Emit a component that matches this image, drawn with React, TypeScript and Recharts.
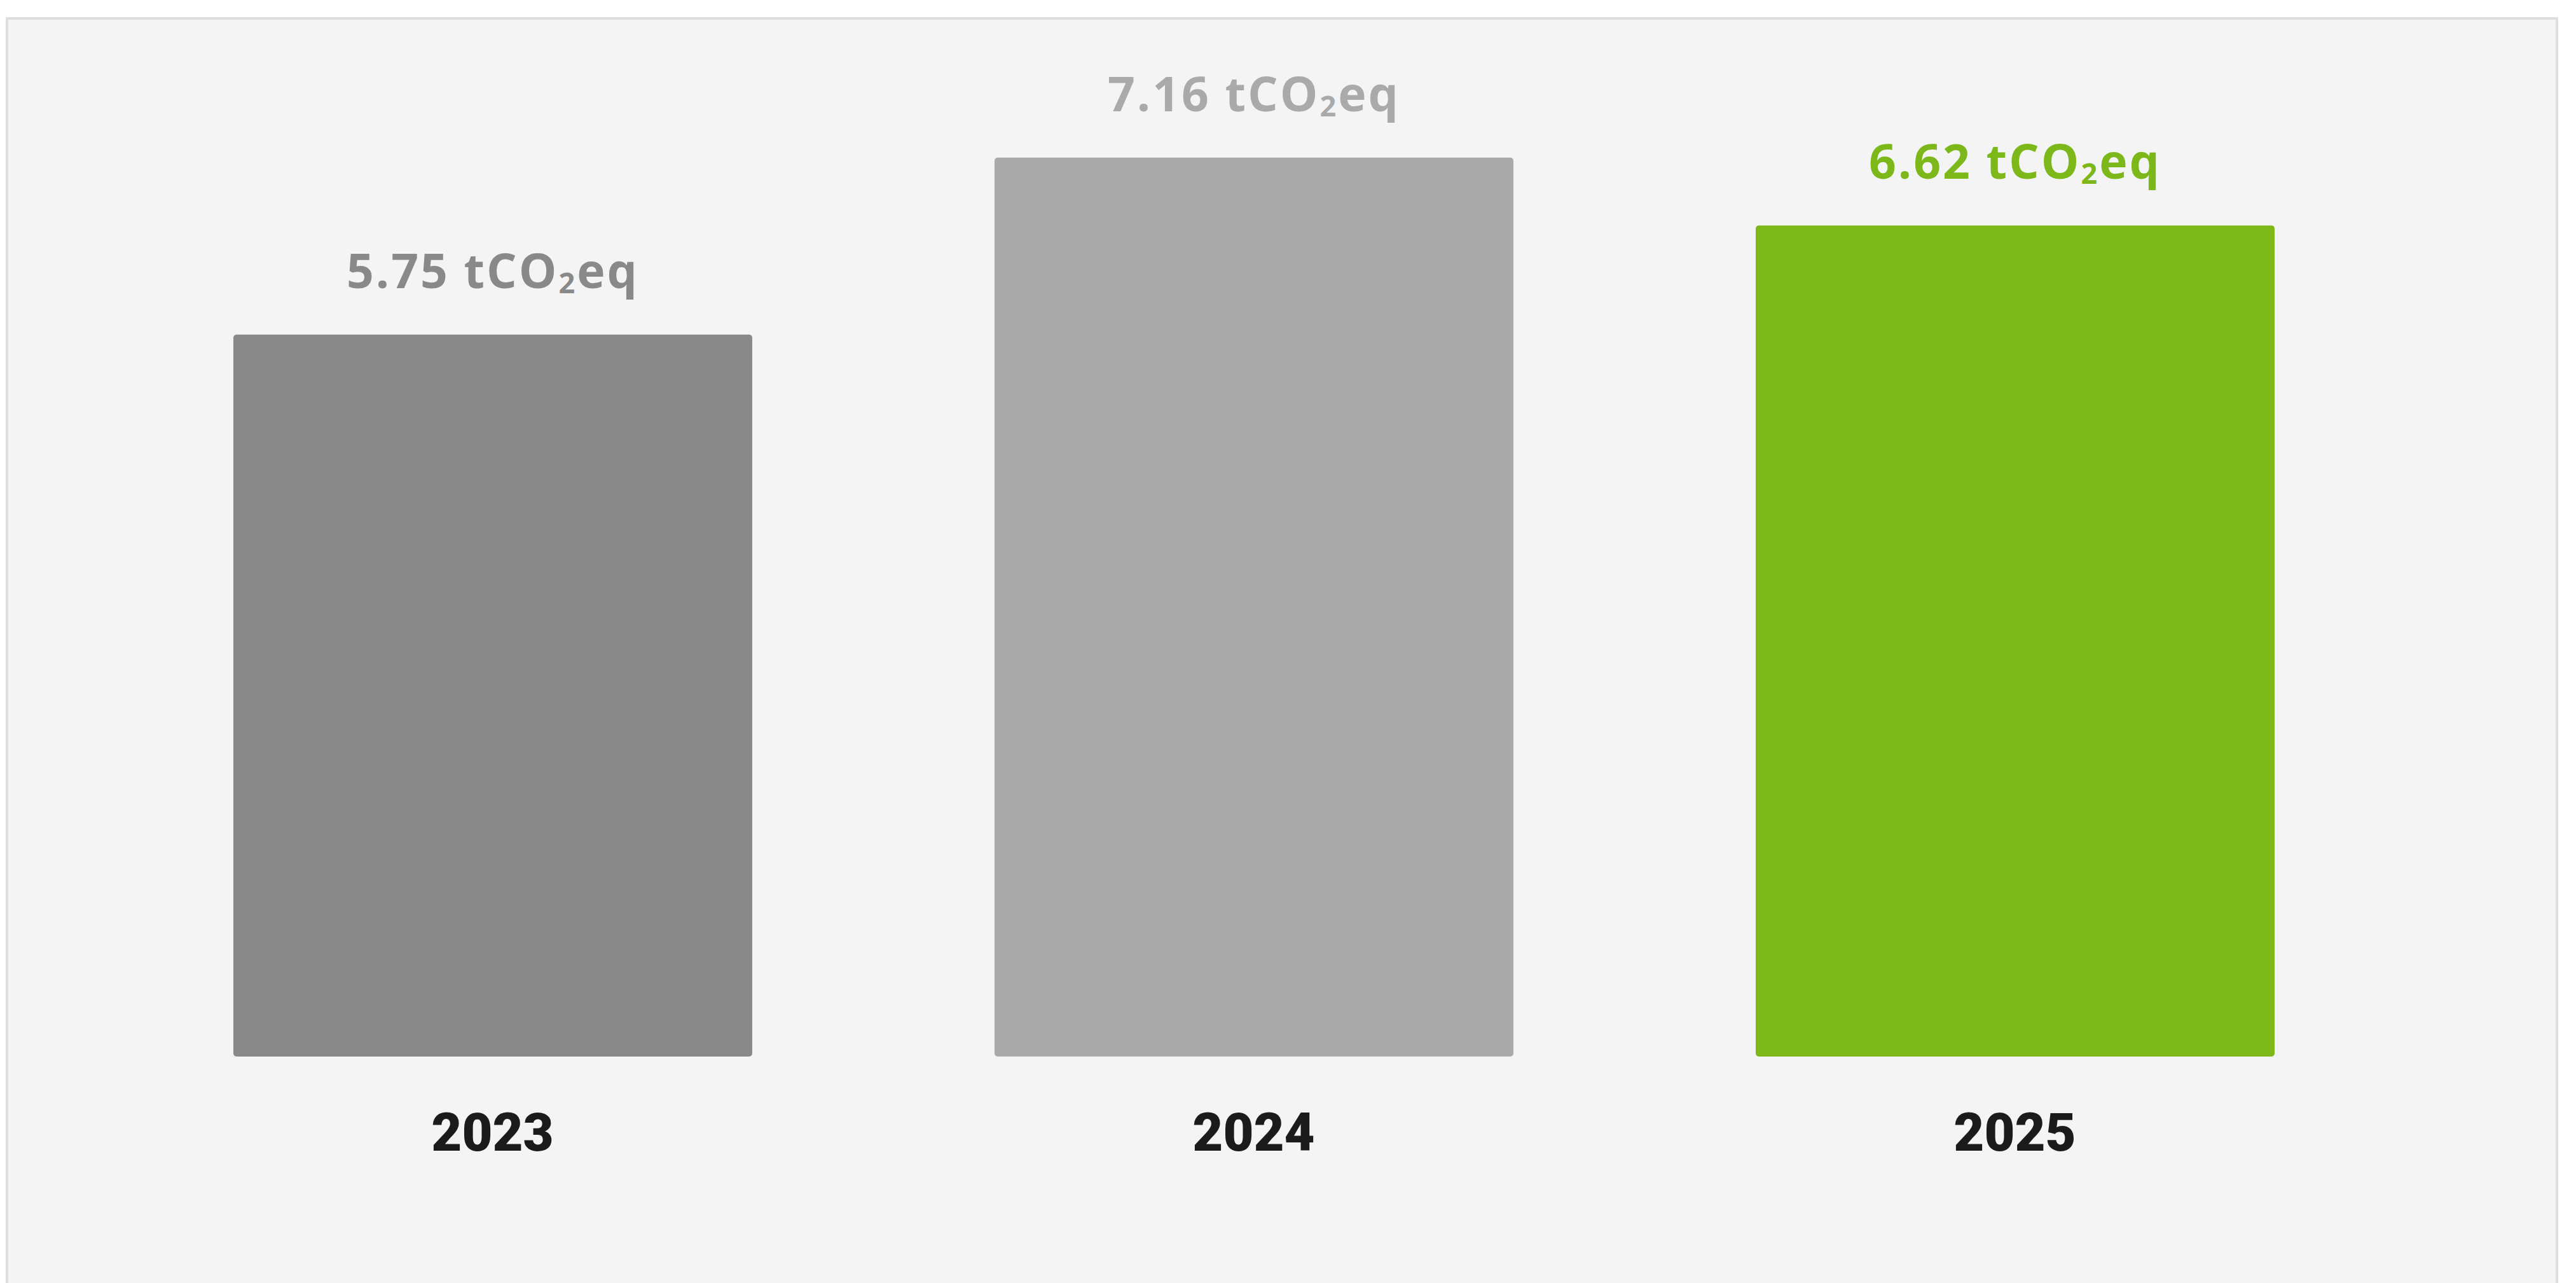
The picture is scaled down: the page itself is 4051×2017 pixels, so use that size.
import React from "react";
import { BarChart, Bar, XAxis, YAxis, Cell, LabelList } from "recharts";

const years = ["2023", "2024", "2025"];
const emissions = [5.75, 7.16, 6.62];
const barColors = ["#898989", "#aaaaaa", "#7cb81a"];
const unitMain = "tCO";
const unitSub = "2";
const unitTail = "eq";

const data = years.map((year, i) => ({ year, value: emissions[i] }));

const ValueLabel = (props: any) => {
  const { x, y, width, value, index } = props;
  const cx = x + width / 2;
  const color = barColors[index];
  return (
    <text
      x={cx}
      y={y - 73}
      textAnchor="middle"
      fill={color}
      fontFamily="'Open Sans', sans-serif"
      fontWeight={700}
      fontSize={75}
      letterSpacing={3}
    >
      <tspan>{`${value.toFixed(2)} ${unitMain}`}</tspan>
      <tspan fontSize={45} dy={8}>{unitSub}</tspan>
      <tspan dy={-8}>{unitTail}</tspan>
    </text>
  );
};

const YearTick = (props: any) => {
  const { x, y, payload } = props;
  return (
    <text
      x={x}
      y={y + 140}
      textAnchor="middle"
      fill="#1b1b1b"
      fontFamily="Roboto, sans-serif"
      fontWeight={900}
      fontSize={83}
    >
      {payload.value}
    </text>
  );
};

export default function App() {
  return (
    <div
      style={{
        position: "absolute",
        left: 9,
        top: 27,
        width: 4014,
        height: 1990,
        boxSizing: "border-box",
        borderTop: "4px solid #dedede",
        borderLeft: "4px solid #dedede",
        borderRight: "4px solid #dedede",
        background: "#f4f4f4",
      }}
    >
      <BarChart
        width={4006}
        height={1986}
        data={data}
        margin={{ top: 51, right: 252, bottom: 206, left: 163 }}
      >
        <XAxis
          dataKey="year"
          axisLine={false}
          tickLine={false}
          height={150}
          tick={<YearTick />}
          interval={0}
        />
        <YAxis hide domain={[0, 8]} />
        <Bar dataKey="value" barSize={816} radius={5} isAnimationActive={false}>
          {data.map((d, i) => (
            <Cell key={d.year} fill={barColors[i]} />
          ))}
          <LabelList dataKey="value" content={<ValueLabel />} />
        </Bar>
      </BarChart>
    </div>
  );
}
